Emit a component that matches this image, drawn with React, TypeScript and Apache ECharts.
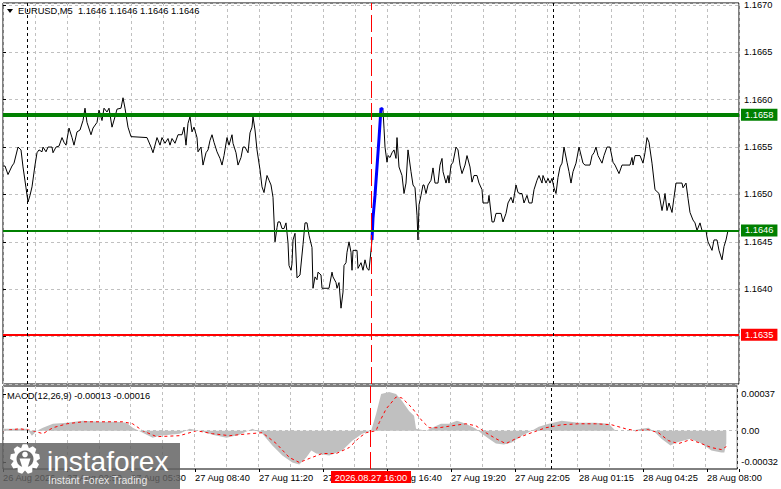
import React, { useEffect, useRef } from "react";
import * as echarts from "echarts";

// ---------- DATA ----------
const symbolTitle = "EURUSD,M5  1.1646 1.1646 1.1646 1.1646";
const macdTitle = "MACD(12,26,9) -0.00013 -0.00016";

// bar index of each time label (M5 bars) and its text
const timeTickBars = [0, 32, 64, 96, 128, 160, 192, 224, 256, 288, 320, 352];
const timeTickLabels = [
  "26 Aug 2026", "27 Aug 02:50", "27 Aug 05:30", "27 Aug 08:40", "27 Aug 11:20", "27 Aug 14:00",
  "27 Aug 16:40", "27 Aug 19:20", "27 Aug 22:05", "28 Aug 01:15", "28 Aug 04:25", "28 Aug 08:00",
];

// close prices [bar index, price]
const priceCloses: [number, number][] = [
  [0, 1.1653], [1, 1.1653], [2.5, 1.16521], [4.5, 1.1653], [5.5, 1.16533], [7.5, 1.1655], [9, 1.16547],
  [10, 1.16529], [11.5, 1.16507], [12.5, 1.16492], [13.5, 1.16499], [14.5, 1.16508], [16, 1.16531],
  [17, 1.16544], [18, 1.16547], [19.5, 1.16545], [20, 1.1655], [21.5, 1.16545], [22.5, 1.1655],
  [24.5, 1.1655], [25, 1.16544], [26.5, 1.1655], [28, 1.16551], [29.5, 1.1656], [30.5, 1.16555],
  [31.5, 1.16552], [33, 1.1657], [34.5, 1.1656], [35.5, 1.16552], [37, 1.16566], [38.5, 1.16568],
  [40, 1.16578], [41, 1.16591], [42, 1.16576], [44, 1.16563], [45, 1.1657], [47, 1.16576],
  [48, 1.16589], [49.5, 1.16578], [50.5, 1.16591], [52, 1.16587], [53, 1.16591], [54.5, 1.16571],
  [56, 1.16582], [57, 1.1659], [59, 1.16591], [60, 1.16602], [61, 1.16591], [62.5, 1.16571],
  [64, 1.16561], [72, 1.1656], [74, 1.1655], [75, 1.16544], [77, 1.1656], [78.5, 1.16552],
  [79.5, 1.1656], [81, 1.16554], [82.5, 1.16559], [83.5, 1.16552], [84.5, 1.16559], [86, 1.16554],
  [87.5, 1.16563], [89.5, 1.16563], [90.5, 1.16571], [91.5, 1.16552], [92.5, 1.16575], [93.5, 1.16582],
  [94.5, 1.16566], [95.5, 1.16571], [97, 1.1656], [97.5, 1.16545], [99, 1.1655], [100, 1.16531],
  [101.5, 1.16544], [102.5, 1.16547], [103.5, 1.16557], [104.5, 1.16563], [105.5, 1.16555], [107, 1.16545],
  [108.5, 1.16538], [109.5, 1.16531], [110.5, 1.16541], [112, 1.1656], [113, 1.16552], [114.5, 1.16563],
  [115, 1.16554], [116.5, 1.16544], [117.5, 1.16531], [119, 1.16539], [120, 1.1655], [121, 1.1655],
  [122.5, 1.16544], [123.5, 1.16565], [124.5, 1.16571], [125, 1.16582], [126, 1.16568], [127, 1.16547],
  [128.5, 1.16526], [129.5, 1.16508], [130.5, 1.16502], [132, 1.1652], [133, 1.16515], [134, 1.1651],
  [135, 1.16497], [136, 1.1645], [137, 1.16465], [137.5, 1.16471], [138.5, 1.16471], [139.5, 1.16464],
  [140.5, 1.16464], [141.5, 1.1647], [142.5, 1.16449], [143, 1.16425], [144, 1.1642], [144.5, 1.16427],
  [145, 1.16452], [146, 1.16459], [147, 1.16412], [148.5, 1.16415], [150, 1.16447], [151, 1.1647],
  [152, 1.1647], [153, 1.16457], [154.5, 1.16444], [155, 1.16401], [156, 1.16413], [157, 1.1641],
  [157.5, 1.16418], [159, 1.16415], [159.5, 1.16401], [163, 1.16401], [164.5, 1.16418], [165, 1.16413],
  [166.5, 1.16407], [167, 1.16401], [168, 1.16407], [169, 1.1638], [170, 1.16397], [170.5, 1.16425],
  [171.5, 1.16428], [172, 1.16439], [173, 1.1645], [174, 1.16439], [174.5, 1.1642], [175, 1.16441],
  [177, 1.16441], [177.5, 1.16422], [179, 1.16428], [180, 1.1642], [181, 1.16431], [182, 1.16422],
  [183, 1.1642], [184, 1.16441], [184.5, 1.16452], [185, 1.16475], [186, 1.16499], [187, 1.16529],
  [188, 1.16559], [189, 1.16591], [190, 1.16589], [190.5, 1.1657], [191, 1.1655], [192, 1.16534],
  [192.5, 1.16541], [193.5, 1.16539], [194.5, 1.16544], [195.5, 1.16547], [196.5, 1.16538], [197, 1.1656],
  [198, 1.16529], [199.5, 1.1652], [200.5, 1.16501], [201.5, 1.16512], [202.5, 1.16547], [204, 1.16524],
  [205, 1.1651], [206, 1.16507], [207, 1.16478], [207.5, 1.16452], [208, 1.16489], [209, 1.16499],
  [210, 1.1651], [210.5, 1.1651], [211.5, 1.16501], [212.5, 1.1651], [214, 1.16515], [215, 1.16528],
  [216, 1.16512], [217.5, 1.16512], [218.5, 1.16531], [219.5, 1.16538], [220, 1.16524], [221.5, 1.16512],
  [222.5, 1.1652], [223, 1.16512], [224, 1.16531], [225, 1.16534], [226.5, 1.1655], [227.5, 1.16547],
  [228.5, 1.16531], [229.5, 1.16522], [231, 1.16531], [232, 1.16541], [233.5, 1.16529], [234.5, 1.16513],
  [235.5, 1.1652], [237, 1.1652], [238, 1.16512], [239.5, 1.16505], [240, 1.16491], [242.5, 1.16491],
  [243, 1.16499], [244.5, 1.16471], [245.5, 1.16471], [246.5, 1.1648], [249, 1.1648], [250, 1.16471],
  [251.5, 1.1648], [252.5, 1.16491], [254, 1.16497], [255, 1.16491], [256.5, 1.1651], [257.5, 1.16502],
  [258.5, 1.16501], [259.5, 1.16501], [260.5, 1.16491], [262, 1.16499], [263, 1.16491], [264.5, 1.16491],
  [265.5, 1.16505], [267, 1.16515], [268, 1.1652], [269.5, 1.16512], [270, 1.1652], [271.5, 1.16512],
  [272.5, 1.16517], [273.5, 1.16512], [274.5, 1.16517], [275.5, 1.16507], [276.5, 1.16501], [277.5, 1.16518],
  [278.5, 1.16529], [279.5, 1.16533], [280.5, 1.1655], [282, 1.16534], [283, 1.16524], [284, 1.16512],
  [285, 1.16524], [286.5, 1.16533], [288, 1.1655], [290, 1.16533], [291, 1.16531], [293.5, 1.16531],
  [294.5, 1.16541], [295.5, 1.16544], [296.5, 1.1655], [297.5, 1.16541], [299.5, 1.16533], [300.5, 1.16541],
  [302, 1.1655], [303.5, 1.1655], [305, 1.16534], [306, 1.16531], [308, 1.16522], [309.5, 1.16531],
  [313.5, 1.16531], [314.5, 1.16539], [315, 1.16531], [316, 1.16541], [318.5, 1.16541], [320, 1.16533],
  [321, 1.16544], [322, 1.1656], [323, 1.16555], [324.5, 1.16533], [326, 1.16505], [328, 1.16501],
  [329.5, 1.16483], [330.5, 1.16494], [331, 1.16501], [332, 1.16483], [333, 1.16491], [334.5, 1.16481],
  [335.5, 1.16497], [336.5, 1.16512], [339.5, 1.16512], [340, 1.16507], [341.5, 1.16512], [342.5, 1.16496],
  [343.5, 1.16481], [345, 1.16473], [346, 1.1647], [347, 1.16462], [348.5, 1.1647], [349.5, 1.16462],
  [351.5, 1.16462], [352, 1.16455], [352.5, 1.1645], [354.5, 1.16441], [355.5, 1.16452], [357, 1.16452],
  [358, 1.16441], [359.5, 1.16431], [360.5, 1.16445], [361.5, 1.16452], [362.5, 1.16462],
];

// highlighted surge segment (blue)
const surgeBars = [184.5, 185, 186, 187, 188, 189, 190];
const surgeCloses = [1.16452, 1.16475, 1.16499, 1.16529, 1.16559, 1.16591, 1.16589];

// horizontal levels
const levelValues = [1.16584, 1.16462, 1.16352];
const levelLabels = ["1.1658", "1.1646", "1.1635"];

// vertical markers
const daySeparatorBars = [12, 275];
const timeMarkerBar = 184;
const timeMarkerLabel = "2026.08.27 16:00";

// MACD histogram
const macdHistBars = [
  0, 12, 14.5, 17, 20, 25, 32, 40, 48.5, 57, 62, 65, 70, 75, 78.5, 88.5, 93.5, 98.5, 105, 112, 118.5, 125, 130,
  135, 140, 145, 148.5, 152, 154.5, 157, 163.5, 170, 175, 180, 184.5, 187, 189.5, 193.5, 197, 200, 203.5, 206,
  207, 212, 215, 219.5, 223.5, 227.5, 232, 237, 240, 243.5, 247, 251, 255, 260, 265, 268.5, 273.5, 280, 288.5,
  297, 303.5, 307, 315, 320, 323.5, 327, 330, 334.5, 337.5, 344.5, 350, 355, 360, 361.5, 362.5,
];
const macdHistValues = [
  0.00002, 0.00002, -0.00005, 0, 0.00003, 0.00007, 0.00008, 0.0001, 0.00009, 0.00009, 0.00008, 0.00003, -0.00002,
  -0.00007, -0.00005, -0.00003, 0.00002, 0, -0.00004, -0.00007, -0.00004, 0.00002, -0.00003, -0.00015, -0.00025,
  -0.00032, -0.00034, -0.00027, -0.0002, -0.00023, -0.00025, -0.0002, -0.0001, -0.00003, 0, 0.00017, 0.00037,
  0.00039, 0.00037, 0.0003, 0.0002, 0.00015, 0.00002, 0, 0.00003, 0.00007, 0.00007, 0.0001, 0.00007, 0.00002,
  -0.00003, -0.00008, -0.00013, -0.00014, -0.00012, -0.00005, 0, 0.00004, 0.00007, 0.0001, 0.00008, 0.00008,
  0.00007, 0, 0, 0.00002, 0.00003, -0.00002, -0.00008, -0.00015, -0.00012, -0.00008, -0.00013, -0.0002, -0.00022,
  -0.00022, -0.00013,
];

// MACD signal line
const macdSignalBars = [
  0, 8.5, 15, 20, 25, 32, 40, 48.5, 60, 65, 70, 77, 88.5, 97, 105, 113.5, 123.5, 130, 137, 143.5, 148.5, 153.5,
  160, 167, 173.5, 178.5, 182, 187, 188.5, 192, 197, 200, 205, 210, 213.5, 218.5, 225, 232, 237, 242, 247, 252,
  257, 263.5, 272, 280, 288.5, 297, 305, 312, 317, 323.5, 328.5, 333.5, 338.5, 344.5, 350, 355, 360, 362.5,
];
const macdSignalValues = [
  0, 0.00002, 0, -0.00003, 0.00003, 0.00007, 0.00009, 0.00009, 0.00009, 0.00007, 0, -0.00006, -0.00005, 0,
  -0.00003, -0.00005, -0.00003, -0.00002, -0.00013, -0.00027, -0.00032, -0.00028, -0.00023, -0.00023, -0.00017,
  -0.00007, -0.00002, 0, 0.00008, 0.00022, 0.00034, 0.00033, 0.00023, 0.0001, 0.00003, 0.00003, 0.00005, 0.00007,
  0.00005, -0.00002, -0.00008, -0.00013, -0.00008, -0.00003, 0.00003, 0.00006, 0.00007, 0.00007, 0.00006, 0.00002,
  0, 0.00001, -0.00002, -0.0001, -0.00013, -0.00009, -0.00013, -0.00017, -0.00019, -0.00016,
];
const macdAxisTicks = [0.00037, 0, -0.00032];

const watermarkTitle = "instaforex";
const watermarkSubtitle = "Instant Forex Trading";

// ---------- STYLE ----------
const FONT = "Liberation Sans";
const FS = 9.3;
const GRID_LINE = { color: "#c0c0c0", type: [3, 3], width: 1 };
const LEVEL_STYLES = [
  { color: "#008000", width: 4 },
  { color: "#008000", width: 2 },
  { color: "#ff0000", width: 2 },
];

function gearPoints(cx: number, cy: number, ro: number, ri: number, teeth: number) {
  const pts: number[][] = [];
  const step = (Math.PI * 2) / teeth;
  for (let k = 0; k < teeth; k++) {
    const a = k * step - Math.PI / 2;
    const offs = [-0.5, -0.22, 0.22, 0.5];
    const rads = [ri, ro, ro, ri];
    for (let j = 0; j < 4; j++) {
      const ang = a + offs[j] * step;
      pts.push([cx + rads[j] * Math.cos(ang), cy + rads[j] * Math.sin(ang)]);
    }
  }
  return pts;
}

export default function App() {
  const ref = useRef<HTMLDivElement>(null);

  useEffect(() => {
    if (!ref.current) return;
    const chart = echarts.init(ref.current, null, { renderer: "svg" });

    const xBase = (gridIndex: number) => ({
      type: "value",
      gridIndex,
      min: 0,
      max: 368,
      interval: 16,
      axisLine: { show: false },
      axisTick: { show: false },
      axisLabel: { show: false },
      splitLine: { show: true, lineStyle: GRID_LINE },
    });

    const verticalMarks = () => [
      ...daySeparatorBars.map((b) => ({
        xAxis: b,
        lineStyle: { color: "#000", type: [3, 3], width: 1 },
        label: { show: false },
      })),
      {
        xAxis: timeMarkerBar,
        lineStyle: { color: "#ff0000", type: [17, 5], width: 1 },
        label: { show: false },
      },
    ];

    // an axis price label that sits exactly under a level's tag is covered by it
    const coveredByLevel = (v: number) => levelValues.some((lv) => Math.abs(lv - v) < 0.00003);

    const option: any = {
      animation: false,
      backgroundColor: "#ffffff",
      textStyle: { fontFamily: FONT, fontSize: FS, color: "#000" },
      grid: [
        { left: 3, right: 42, top: 3, height: 381, show: true, borderColor: "#000", borderWidth: 1 },
        { left: 3, right: 42, top: 386, height: 83, show: true, borderColor: "#000", borderWidth: 1 },
        { left: 3, right: 42, top: 468, height: 1 },
      ],
      xAxis: [
        xBase(0),
        xBase(1),
        {
          type: "value",
          gridIndex: 2,
          min: 0,
          max: 368,
          interval: 32,
          axisLine: { show: false },
          axisTick: { show: true, length: 3, lineStyle: { color: "#000" } },
          splitLine: { show: false },
          axisLabel: {
            align: "left",
            margin: 4,
            color: "#000",
            fontFamily: FONT,
            fontSize: FS,
            formatter: (v: number) => {
              const i = timeTickBars.indexOf(v);
              return i >= 0 ? timeTickLabels[i] : "";
            },
          },
        },
      ],
      yAxis: [
        {
          type: "value",
          gridIndex: 0,
          position: "right",
          min: 1.163,
          max: 1.16702,
          interval: 0.0005,
          axisLine: { show: false },
          axisTick: { show: true, length: 3, lineStyle: { color: "#000" } },
          axisLabel: {
            margin: 5,
            color: "#000",
            fontFamily: FONT,
            fontSize: FS,
            showMinLabel: false,
            showMaxLabel: false,
            formatter: (v: number) => (coveredByLevel(v) ? "" : v.toFixed(4)),
          },
          splitLine: { show: true, lineStyle: GRID_LINE },
        },
        {
          type: "value",
          gridIndex: 1,
          position: "right",
          min: -0.000386,
          max: 0.000451,
          axisLine: { show: false },
          axisTick: { show: true, length: 3, lineStyle: { color: "#000" }, customValues: macdAxisTicks },
          axisLabel: {
            margin: 4,
            color: "#000",
            fontFamily: FONT,
            fontSize: FS,
            customValues: macdAxisTicks,
            formatter: (v: number) => (Math.abs(v) < 1e-9 ? "0.00" : v.toFixed(5)),
          },
          splitLine: { show: false },
        },
        { type: "value", gridIndex: 2, show: false },
      ],
      series: [
        {
          type: "line",
          name: "EURUSD",
          xAxisIndex: 0,
          yAxisIndex: 0,
          data: priceCloses,
          symbol: "none",
          lineStyle: { color: "#000", width: 1 },
          z: 3,
          markLine: {
            silent: true,
            precision: 6,
            symbol: ["none", "none"],
            data: [
              ...levelValues.map((v, i) => ({
                yAxis: v,
                lineStyle: { color: LEVEL_STYLES[i].color, width: LEVEL_STYLES[i].width, type: "solid" },
                label: {
                  show: true,
                  position: "end",
                  distance: 2,
                  formatter: levelLabels[i],
                  color: "#fff",
                  backgroundColor: LEVEL_STYLES[i].color,
                  padding: [1, 4, 1, 4],
                  fontFamily: FONT,
                  fontSize: FS,
                  lineHeight: 10,
                },
              })),
              ...verticalMarks(),
            ],
          },
        },
        {
          type: "line",
          name: "surge",
          xAxisIndex: 0,
          yAxisIndex: 0,
          data: surgeBars.map((b, i) => [b, surgeCloses[i]]),
          symbol: "none",
          lineStyle: { color: "#0000ff", width: 3 },
          z: 4,
        },
        {
          type: "line",
          name: "MACD",
          xAxisIndex: 1,
          yAxisIndex: 1,
          data: macdHistBars.map((b, i) => [b, macdHistValues[i]]),
          symbol: "none",
          lineStyle: { width: 0, color: "#c0c0c0" },
          areaStyle: { color: "#c0c0c0", opacity: 1, origin: 0 },
          z: 2,
          markLine: {
            silent: true,
            precision: 6,
            symbol: ["none", "none"],
            data: [
              { yAxis: 0, lineStyle: { color: "#c0c0c0", type: [3, 3], width: 1 }, label: { show: false } },
              ...verticalMarks(),
            ],
          },
        },
        {
          type: "line",
          name: "Signal",
          xAxisIndex: 1,
          yAxisIndex: 1,
          data: macdSignalBars.map((b, i) => [b, macdSignalValues[i]]),
          symbol: "none",
          lineStyle: { color: "#ff0000", width: 1, type: [3, 3] },
          z: 3,
        },
      ],
    };

    chart.setOption(option);

    const markerX = chart.convertToPixel({ xAxisIndex: 2 }, timeMarkerBar) as number;
    const gray = "rgba(98,98,98,0.84)";

    chart.setOption({
      graphic: [
        { type: "polygon", z: 100, shape: { points: [[7, 9], [13, 9], [10, 13]] }, style: { fill: "#000" } },
        {
          type: "text", z: 100, x: 18, y: 11,
          style: { text: symbolTitle, fontFamily: FONT, fontSize: FS, fill: "#000", verticalAlign: "middle" },
        },
        {
          type: "text", z: 100, x: 7, y: 396,
          style: { text: macdTitle, fontFamily: FONT, fontSize: FS, fill: "#000", verticalAlign: "middle" },
        },
        {
          type: "group", z: 100,
          children: [
            { type: "rect", z: 100, shape: { x: markerX - 40, y: 471, width: 80, height: 12 }, style: { fill: "#ff0000" } },
            {
              type: "text", z: 101, x: markerX, y: 477.5,
              style: { text: timeMarkerLabel, fontFamily: FONT, fontSize: FS, fill: "#fff", align: "center", verticalAlign: "middle" },
            },
          ],
        },
        {
          type: "group", z: 110,
          children: [
            { type: "rect", z: 110, shape: { x: 0, y: 443, width: 180, height: 46 }, style: { fill: gray } },
            { type: "polygon", z: 111, shape: { points: gearPoints(25, 459, 15, 11.5, 9) }, style: { fill: "#ffffff" } },
            { type: "circle", z: 112, shape: { cx: 25, cy: 459, r: 8.5 }, style: { fill: "#6e6e6e" } },
            { type: "circle", z: 113, shape: { cx: 25, cy: 454.5, r: 2.8 }, style: { fill: "#ffffff" } },
            { type: "polygon", z: 113, shape: { points: [[19.5, 458.5], [30.5, 458.5], [27.5, 468], [22.5, 468]] }, style: { fill: "#ffffff" } },
            {
              type: "text", z: 112, x: 47, y: 461.5,
              style: { text: watermarkTitle, fontFamily: FONT, fontSize: 28, fill: "#ffffff", verticalAlign: "middle" },
            },
            {
              type: "text", z: 112, x: 48, y: 479.5,
              style: { text: watermarkSubtitle, fontFamily: FONT, fontSize: 10.5, fill: "rgba(255,255,255,0.85)", verticalAlign: "middle" },
            },
          ],
        },
      ],
    });

    return () => chart.dispose();
  }, []);

  return (
    <div
      ref={ref}
      style={{ position: "fixed", left: 0, top: 0, width: 781, height: 489, background: "#fff" }}
    />
  );
}
